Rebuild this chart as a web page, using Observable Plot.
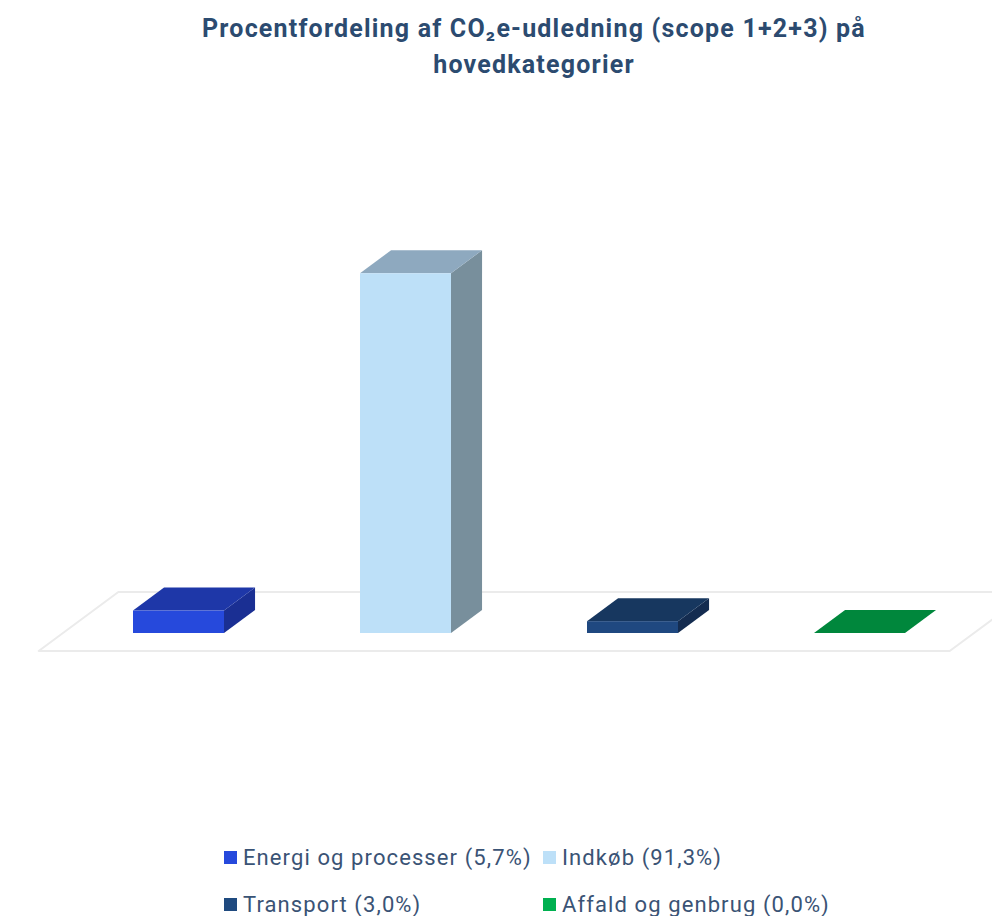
<!DOCTYPE html>
<html>
<head>
<meta charset="utf-8">
<script src="https://cdn.jsdelivr.net/npm/d3@7"></script>
<script src="https://cdn.jsdelivr.net/npm/@observablehq/plot@0.6"></script>
<style>
  html, body { margin: 0; padding: 0; background: #fff; }
  #wrap { position: relative; width: 992px; height: 916px; overflow: hidden; font-family: Roboto, "Noto Sans", sans-serif; }
  #title { position: absolute; left: 0; top: 11px; width: 1068px; text-align: center; color: #2c4b70; font-weight: 700; font-size: 25px; letter-spacing: 1.2px; line-height: 36px; }
  #chart { position: absolute; left: 0; top: 100px; }
  #legend { position: absolute; left: 224px; top: 834px; color: #3a5375; font-size: 22px; letter-spacing: 1.1px; }
  .row { display: flex; height: 47px; align-items: center; }
  .item { display: flex; align-items: center; }
  .item.c1 { width: 319px; }
  .sw { width: 13px; height: 13px; margin-right: 6px; }
</style>
</head>
<body>
<div id="wrap">
  <div id="title">Procentfordeling af CO₂e-udledning (scope 1+2+3) på<br>hovedkategorier</div>
  <div id="chart"></div>
  <div id="legend"></div>
</div>
<script>
const categories = ["Energi og processer", "Indkøb", "Transport", "Affald og genbrug"];
const values = [5.7, 91.3, 3.0, 0.0];
const labels = ["5,7%", "91,3%", "3,0%", "0,0%"];
const frontColors = ["#2649dc", "#bde0f8", "#1f4880", "#00873c"];
const topColors = ["#1e37a8", "#8ea9bf", "#17375f", "#00873c"];
const sideColors = ["#1a2f93", "#788f9c", "#142c50", "#006e31"];
const legendColors = ["#2649dc", "#bde0f8", "#1f4a7f", "#00b050"];

const data = categories.map((c, i) => ({category: c, value: values[i], i}));

// 3D projection offsets (pixels)
const depthY = 23, slope = 1.35, floorPad = 18;

const svgNS = "http://www.w3.org/2000/svg";
function poly(g, pts, fill, stroke, sw) {
  const p = document.createElementNS(svgNS, "polygon");
  p.setAttribute("points", pts.map(d => d.join(",")).join(" "));
  p.setAttribute("fill", fill);
  if (stroke) { p.setAttribute("stroke", stroke); p.setAttribute("stroke-width", sw || 1); p.setAttribute("stroke-linejoin", "round"); }
  else p.setAttribute("stroke", "none");
  g.appendChild(p);
}

const plot = Plot.plot({
  width: 992,
  height: 720,
  marginLeft: 63,
  marginRight: 18,
  marginTop: 139,
  marginBottom: 187,
  x: {type: "band", domain: categories, paddingInner: 0.6, paddingOuter: 0.3, axis: null},
  y: {domain: [0, 100], axis: null},
  marks: [
    // floor
    Plot.ruleY([0], {
      render(index, scales, values, dims, context, next) {
        const g = document.createElementNS(svgNS, "g");
        const y0 = scales.y(0);
        const xl = dims.marginLeft, xr = dims.width - dims.marginRight;
        const fy = y0 + floorPad, by = y0 - depthY - floorPad;
        const fdx = -floorPad * slope, bdx = (depthY + floorPad) * slope;
        poly(g, [[xl + fdx, fy], [xr + fdx, fy], [xr + bdx, by], [xl + bdx, by]], "#ffffff", "#ebebeb", 2);
        return g;
      }
    }),
    // bars with 3D faces
    Plot.barY(data, {
      x: "category", y: "value",
      fill: d => frontColors[d.i],
      render(index, scales, values, dims, context, next) {
        const base = next(index, scales, values, dims, context);
        const g = document.createElementNS(svgNS, "g");
        const dx = depthY * slope, dy = depthY;
        const rects = base.querySelectorAll("rect");
        rects.forEach((r, k) => {
          const i = index[k];
          const x = +r.getAttribute("x"), y = +r.getAttribute("y");
          const w = +r.getAttribute("width"), h = +r.getAttribute("height");
          const yb = y + h;
          if (h > 0) poly(g, [[x + w, y], [x + w, yb], [x + w + dx, yb - dy], [x + w + dx, y - dy]], sideColors[data[i].i]);
          poly(g, [[x, y], [x + w, y], [x + w + dx, y - dy], [x + dx, y - dy]], topColors[data[i].i]);
          if (h > 0) g.appendChild(r.cloneNode());
        });
        return g;
      }
    })
  ]
});
document.getElementById("chart").appendChild(plot);

// legend
const legend = document.getElementById("legend");
for (let r = 0; r < 2; r++) {
  const row = document.createElement("div");
  row.className = "row";
  for (let c = 0; c < 2; c++) {
    const i = r * 2 + c;
    const item = document.createElement("div");
    item.className = "item" + (c === 0 ? " c1" : "");
    const sw = document.createElement("div");
    sw.className = "sw";
    sw.style.background = legendColors[i];
    const t = document.createElement("span");
    t.textContent = `${categories[i]} (${labels[i]})`;
    item.appendChild(sw); item.appendChild(t);
    row.appendChild(item);
  }
  legend.appendChild(row);
}
</script>
</body>
</html>
